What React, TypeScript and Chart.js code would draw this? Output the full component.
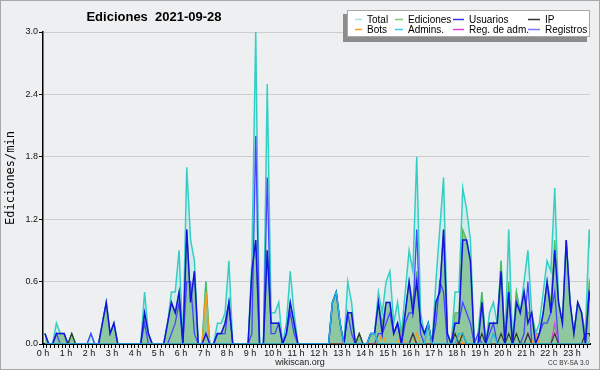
import React, { useEffect, useRef } from "react";
import { Chart, registerables } from "chart.js";

Chart.register(...registerables);

// ---------- text ----------
const TITLE = "Ediciones  2021-09-28";
const Y_TITLE = "Ediciones/min";
const FOOTER = "wikiscan.org";
const LICENSE = "CC BY-SA 3.0";

// ---------- axes ----------
const HOUR_LABELS = [
  "0 h", "1 h", "2 h", "3 h", "4 h", "5 h", "6 h", "7 h", "8 h", "9 h", "10 h", "11 h",
  "12 h", "13 h", "14 h", "15 h", "16 h", "17 h", "18 h", "19 h", "20 h", "21 h", "22 h", "23 h",
];
const SLOTS_PER_HOUR = 6; // 10-minute slots
const X_MAX = 142.7;
const Y_TICKS = [0, 0.6, 1.2, 1.8, 2.4, 3.0];

// ---------- series (edits per minute, 10-minute slots from 00:00) ----------
const total = [
  0.1, 0, 0, 0.2, 0.1, 0.1, 0, 0.1, 0, 0, 0, 0,
  0.1, 0, 0, 0.2, 0.4, 0.1, 0.2, 0, 0, 0, 0, 0,
  0, 0, 0.5, 0.1, 0, 0, 0, 0, 0.2, 0.5, 0.5, 0.9,
  0, 1.7, 1.0, 0.8, 0, 0, 0.6, 0, 0, 0.2, 0.2, 0.3,
  0.8, 0, 0, 0, 0, 0, 0.8, 3.0, 0, 0, 2.5, 0.3,
  0.3, 0.4, 0, 0.2, 0.7, 0.3, 0, 0, 0, 0, 0, 0,
  0, 0, 0, 0.4, 0.5, 0.2, 0, 0.6, 0.4, 0, 0.1, 0,
  0, 0.1, 0.1, 0.5, 0.3, 0.6, 0.7, 0.2, 0.4, 0.1, 0.5, 0.9,
  0.7, 1.8, 0.3, 0.1, 0.2, 0, 0.6, 1.1, 1.6, 0.1, 0, 0.5,
  0.5, 1.5, 1.3, 1.0, 0, 0.1, 0.5, 0, 0.3, 0.4, 0.2, 0.8,
  0, 1.1, 0, 0.5, 0.3, 0.6, 0.9, 0.3, 0.1, 0.2, 0.5, 0.8,
  0.7, 1.5, 0.4, 0.2, 1.0, 0.4, 0.1, 0.4, 0.3, 0.1, 1.1, 0.6,
];
const ediciones = [
  0.1, 0, 0, 0.1, 0.1, 0.1, 0, 0.1, 0, 0, 0, 0,
  0, 0, 0, 0.2, 0.4, 0.1, 0.2, 0, 0, 0, 0, 0,
  0, 0, 0.3, 0.1, 0, 0, 0, 0, 0.2, 0.4, 0.3, 0.5,
  0, 1.1, 0.4, 0.7, 0, 0, 0.6, 0, 0, 0.1, 0.1, 0.2,
  0.4, 0, 0, 0, 0, 0, 0.7, 1.0, 0, 0, 0.9, 0.2,
  0.2, 0.2, 0, 0.1, 0.4, 0.2, 0, 0, 0, 0, 0, 0,
  0, 0, 0, 0.4, 0.5, 0.2, 0, 0.3, 0.3, 0, 0.1, 0,
  0, 0.1, 0.1, 0.4, 0.2, 0.4, 0.4, 0.1, 0.2, 0.1, 0.3, 0.6,
  0.4, 0.7, 0.2, 0.1, 0.2, 0, 0.4, 0.5, 1.1, 0.1, 0, 0.3,
  0.3, 1.1, 1.0, 0.8, 0, 0, 0.5, 0, 0.2, 0.2, 0.2, 0.8,
  0, 0.6, 0, 0.5, 0.3, 0.5, 0.3, 0.3, 0.1, 0.1, 0.3, 0.6,
  0.4, 1.0, 0.4, 0.2, 1.0, 0.4, 0.1, 0.4, 0.3, 0.1, 0.6, 0.4,
];
const usuarios = [
  0.1, 0, 0, 0.1, 0.1, 0.1, 0, 0, 0, 0, 0, 0,
  0, 0, 0, 0.2, 0.4, 0.1, 0.2, 0, 0, 0, 0, 0,
  0, 0, 0.3, 0.1, 0, 0, 0, 0, 0.2, 0.4, 0.3, 0.5,
  0, 1.1, 0.4, 0.7, 0, 0, 0.1, 0, 0, 0.1, 0.1, 0.2,
  0.4, 0, 0, 0, 0, 0, 0.7, 1.0, 0, 0, 0.9, 0.2,
  0.2, 0.2, 0, 0.1, 0.4, 0.2, 0, 0, 0, 0, 0, 0,
  0, 0, 0, 0.4, 0.5, 0.2, 0, 0.3, 0.3, 0, 0, 0,
  0, 0.1, 0.1, 0.4, 0.1, 0.4, 0.4, 0.1, 0.2, 0, 0.3, 0.6,
  0.3, 0.6, 0.2, 0.1, 0.2, 0, 0.4, 0.5, 1.1, 0.1, 0, 0.2,
  0.2, 1.0, 1.0, 0.8, 0, 0, 0.4, 0, 0.2, 0.2, 0.2, 0.7,
  0, 0.5, 0, 0.4, 0.3, 0.5, 0.2, 0.3, 0, 0.1, 0.3, 0.6,
  0.3, 0.9, 0.4, 0.2, 1.0, 0.4, 0.1, 0.4, 0.3, 0, 0.5, 0.4,
];
const ip = [
  0, 0, 0, 0, 0, 0, 0, 0.1, 0, 0, 0, 0,
  0, 0, 0, 0, 0, 0, 0, 0, 0, 0, 0, 0,
  0, 0, 0, 0, 0, 0, 0, 0, 0, 0, 0, 0,
  0, 0, 0, 0, 0, 0, 0, 0, 0, 0, 0, 0,
  0, 0, 0, 0, 0, 0, 0, 0, 0, 0, 0, 0,
  0, 0, 0, 0, 0, 0, 0, 0, 0, 0, 0, 0,
  0, 0, 0, 0, 0, 0, 0, 0, 0, 0, 0.1, 0,
  0, 0, 0, 0, 0, 0, 0, 0, 0, 0, 0, 0,
  0.1, 0, 0, 0, 0, 0, 0, 0, 0, 0, 0, 0.1,
  0, 0.1, 0, 0, 0, 0, 0.1, 0, 0, 0, 0, 0.1,
  0, 0.1, 0, 0.1, 0, 0, 0.1, 0, 0, 0, 0, 0,
  0, 0.1, 0, 0, 0, 0, 0, 0, 0, 0.1, 0.1, 0,
];
const bots = [
  0, 0, 0, 0, 0, 0, 0, 0, 0, 0, 0, 0,
  0, 0, 0, 0, 0, 0, 0, 0, 0, 0, 0, 0,
  0, 0, 0, 0, 0, 0, 0, 0, 0, 0, 0, 0,
  0, 0, 0, 0, 0, 0, 0.5, 0, 0, 0, 0, 0,
  0, 0, 0, 0, 0, 0, 0, 0, 0, 0, 0, 0,
  0, 0, 0, 0, 0, 0, 0, 0, 0, 0, 0, 0,
  0, 0, 0, 0, 0, 0, 0, 0, 0, 0, 0, 0,
  0, 0, 0, 0, 0.1, 0, 0, 0, 0, 0.1, 0, 0,
  0, 0.1, 0, 0, 0, 0, 0, 0, 0, 0, 0, 0,
  0.1, 0, 0, 0, 0, 0, 0, 0, 0, 0, 0, 0,
  0, 0, 0, 0, 0, 0, 0, 0, 0.1, 0, 0, 0,
  0, 0, 0, 0, 0, 0, 0, 0, 0, 0, 0, 0,
];
const admins = [
  0, 0, 0, 0, 0, 0, 0, 0, 0, 0, 0, 0,
  0, 0, 0, 0, 0, 0, 0, 0, 0, 0, 0, 0,
  0, 0, 0, 0, 0, 0, 0, 0, 0, 0, 0, 0,
  0, 0, 0, 0, 0, 0, 0, 0, 0, 0, 0, 0,
  0, 0, 0, 0, 0, 0, 0, 0, 0, 0, 0, 0,
  0, 0, 0, 0, 0, 0, 0, 0, 0, 0, 0, 0,
  0, 0, 0, 0.4, 0.5, 0.2, 0, 0, 0, 0, 0, 0,
  0, 0.1, 0.1, 0, 0, 0, 0, 0, 0, 0, 0, 0,
  0, 0, 0, 0, 0.2, 0, 0, 0, 0, 0, 0, 0,
  0.1, 0.1, 0, 0, 0, 0, 0, 0, 0, 0.1, 0, 0,
  0, 0, 0, 0, 0, 0, 0, 0, 0, 0, 0, 0,
  0, 0, 0, 0, 0, 0, 0, 0, 0, 0, 0, 0,
];
const regAdm = [
  0, 0, 0, 0, 0, 0, 0, 0, 0, 0, 0, 0,
  0, 0, 0, 0, 0, 0, 0, 0, 0, 0, 0, 0,
  0, 0, 0, 0, 0, 0, 0, 0, 0, 0, 0, 0,
  0, 0, 0, 0, 0, 0, 0, 0, 0, 0, 0, 0,
  0, 0, 0, 0, 0, 0, 0, 0, 0, 0, 0, 0,
  0, 0, 0, 0, 0, 0, 0, 0, 0, 0, 0, 0,
  0, 0, 0, 0, 0, 0, 0, 0, 0, 0, 0, 0,
  0, 0, 0, 0, 0, 0, 0, 0, 0, 0, 0, 0,
  0.1, 0, 0, 0, 0, 0, 0, 0, 0, 0, 0, 0,
  0, 0, 0, 0, 0, 0, 0, 0, 0, 0, 0, 0,
  0, 0, 0, 0, 0, 0, 0.1, 0, 0, 0, 0, 0,
  0, 0.2, 0, 0, 0, 0, 0, 0, 0, 0, 0, 0,
];
const registros = [
  0, 0, 0, 0.1, 0, 0, 0, 0, 0, 0, 0, 0,
  0.1, 0, 0, 0, 0, 0, 0, 0, 0, 0, 0, 0,
  0, 0, 0.2, 0, 0, 0, 0, 0, 0, 0.1, 0.2, 0.4,
  0, 0.6, 0.6, 0.1, 0, 0, 0, 0, 0, 0.1, 0.1, 0.1,
  0.4, 0, 0, 0, 0, 0, 0.1, 2.0, 0, 0, 1.6, 0.1,
  0.1, 0.2, 0, 0.1, 0.3, 0.1, 0, 0, 0, 0, 0, 0,
  0, 0, 0, 0, 0, 0, 0, 0.3, 0.1, 0, 0, 0,
  0, 0, 0, 0.1, 0.1, 0.2, 0.3, 0.1, 0.2, 0, 0.2, 0.3,
  0.3, 1.1, 0.1, 0, 0, 0, 0.2, 0.6, 0.5, 0, 0, 0.2,
  0.2, 0.4, 0.3, 0.2, 0, 0.1, 0, 0, 0.1, 0.2, 0, 0,
  0, 0.5, 0, 0, 0, 0.1, 0.6, 0, 0, 0.1, 0.2, 0.2,
  0.3, 0.5, 0, 0, 0, 0, 0, 0, 0, 0, 0.5, 0.2,
];

// legend order: row 1 then row 2
const LEGEND_ORDER = ["Total", "Ediciones", "Usuarios", "IP", "Bots", "Admins.", "Reg. de adm.", "Registros"];

const BG = "#eeeff1";
const FONT = '"Liberation Sans", Arial, sans-serif';

// plotted at the middle of each 10-minute slot
const toPoints = (vals: number[]) => vals.map((v, i) => ({ x: i + 0.5, y: v }));

const framePlugin = {
  id: "frame",
  beforeDraw(chart: any) {
    const { ctx, width, height } = chart;
    ctx.save();
    ctx.fillStyle = BG;
    ctx.fillRect(0, 0, width, height);
    ctx.restore();
  },
  afterDraw(chart: any) {
    const { ctx, width, height } = chart;
    ctx.save();
    // title
    ctx.fillStyle = "#000";
    ctx.font = `bold 13px ${FONT}`;
    ctx.textAlign = "center";
    ctx.textBaseline = "alphabetic";
    ctx.fillText(TITLE, 154, 21);

    // y title
    ctx.save();
    ctx.translate(11, 178);
    ctx.rotate(-Math.PI / 2);
    ctx.font = `12px "DejaVu Sans Mono", monospace`;
    ctx.textAlign = "center";
    ctx.textBaseline = "middle";
    ctx.fillText(Y_TITLE, 0, 0);
    ctx.restore();

    // footer
    ctx.font = `9px ${FONT}`;
    ctx.fillStyle = "#222";
    ctx.textAlign = "center";
    ctx.fillText(FOOTER, 300, 365);
    ctx.font = `6.5px ${FONT}`;
    ctx.fillStyle = "#333";
    ctx.textAlign = "right";
    ctx.fillText(LICENSE, 589, 365);

    // legend box
    ctx.fillStyle = "#8c8c8c";
    ctx.fillRect(343, 14, 244, 28);
    ctx.fillStyle = "#ffffff";
    ctx.fillRect(347, 10, 243, 27);
    ctx.strokeStyle = "#a8a8a8";
    ctx.lineWidth = 1;
    ctx.strokeRect(347.5, 10.5, 242, 26);

    const cols = [
      { s: 355, e: 362, t: 367 },
      { s: 395, e: 403, t: 408 },
      { s: 453, e: 464, t: 469 },
      { s: 528, e: 540, t: 545 },
    ];
    const rows = [{ l: 19.5, b: 23 }, { l: 29.5, b: 32.5 }];
    ctx.font = `10px ${FONT}`;
    ctx.textAlign = "left";
    LEGEND_ORDER.forEach((label, k) => {
      const ds = chart.data.datasets.find((d: any) => d.label === label);
      if (!ds) return;
      const c = cols[k % 4];
      const r = rows[Math.floor(k / 4)];
      ctx.strokeStyle = ds.legendColor || ds.borderColor;
      ctx.lineWidth = 1.5;
      ctx.beginPath();
      ctx.moveTo(c.s, r.l);
      ctx.lineTo(c.e, r.l);
      ctx.stroke();
      ctx.fillStyle = "#000";
      ctx.fillText(label, c.t, r.b);
    });

    // outer border
    ctx.strokeStyle = "#a8a8a8";
    ctx.lineWidth = 1;
    ctx.strokeRect(0.5, 0.5, width - 1, height - 1);
    ctx.restore();
  },
};

export default function App() {
  const ref = useRef<HTMLCanvasElement | null>(null);

  useEffect(() => {
    if (!ref.current) return;
    const line = (label: string, vals: number[], color: string, width: number, order: number, extra: any = {}) => ({
      label,
      data: toPoints(vals),
      borderColor: color,
      borderWidth: width,
      pointRadius: 0,
      tension: 0,
      fill: false,
      order,
      ...extra,
    });

    const chart = new Chart(ref.current, {
      type: "line",
      data: {
        datasets: [
          line("Total", total, "#34cfc4", 1.5, 8, {
            fill: "origin",
            backgroundColor: "rgba(90,215,205,0.16)",
            legendColor: "#9fe6e2",
          }),
          line("Ediciones", ediciones, "#55b955", 1.2, 7, {
            fill: "origin",
            backgroundColor: "rgba(95,175,110,0.6)",
            legendColor: "#77cc77",
          }),
          line("Registros", registros, "#4646ff", 1.3, 6, { legendColor: "#7777ff" }),
          line("Reg. de adm.", regAdm, "#e040e0", 1.2, 4),
          line("Bots", bots, "#ff9a1a", 1.2, 3),
          line("IP", ip, "#2f3a2f", 1.2, 2),
          line("Usuarios", usuarios, "#1414e0", 1.5, 1, { legendColor: "#3333ee" }),
          line("Admins.", admins, "#22bbdd", 1.3, 0, { legendColor: "#33ccee" }),
        ],
      },
      options: {
        animation: false,
        responsive: false,
        devicePixelRatio: 1,
        layout: { padding: { top: 32, right: 10, left: 0, bottom: 0 } },
        plugins: {
          legend: { display: false },
          title: { display: false },
          tooltip: { enabled: false },
        },
        scales: {
          x: {
            type: "linear",
            min: 0,
            max: X_MAX,
            z: 1,
            afterBuildTicks: (s: any) => {
              const t: { value: number }[] = [];
              for (let k = 0; k <= Math.floor(X_MAX); k++) t.push({ value: k });
              s.ticks = t;
            },
            afterFit: (s: any) => {
              s.height = 26;
            },
            ticks: {
              autoSkip: false,
              maxRotation: 0,
              minRotation: 0,
              padding: 0,
              color: "#111",
              font: { family: FONT, size: 9 },
              callback: (v: any) => (Number(v) % SLOTS_PER_HOUR === 0 ? HOUR_LABELS[Number(v) / SLOTS_PER_HOUR] : ""),
            },
            grid: {
              drawOnChartArea: false,
              drawTicks: true,
              tickLength: 4,
              tickColor: "#000",
              tickWidth: 1,
            },
            border: { color: "#000", width: 2 },
          },
          y: {
            type: "linear",
            min: 0,
            max: 3,
            afterBuildTicks: (s: any) => {
              s.ticks = Y_TICKS.map((v) => ({ value: v }));
            },
            afterFit: (s: any) => {
              s.width = 43;
            },
            ticks: {
              padding: 1,
              color: "#111",
              font: { family: FONT, size: 9 },
              callback: (v: any) => Number(v).toFixed(1),
            },
            grid: {
              color: "#cdcdcd",
              lineWidth: 1,
              tickLength: 4,
              tickColor: "#000",
            },
            border: { color: "#000", width: 1.5 },
          },
        },
      } as any,
      plugins: [framePlugin],
    });
    return () => chart.destroy();
  }, []);

  return (
    <div style={{ position: "absolute", left: 0, top: 0, width: 600, height: 370 }}>
      <canvas ref={ref} width={600} height={370} style={{ display: "block" }} />
    </div>
  );
}
